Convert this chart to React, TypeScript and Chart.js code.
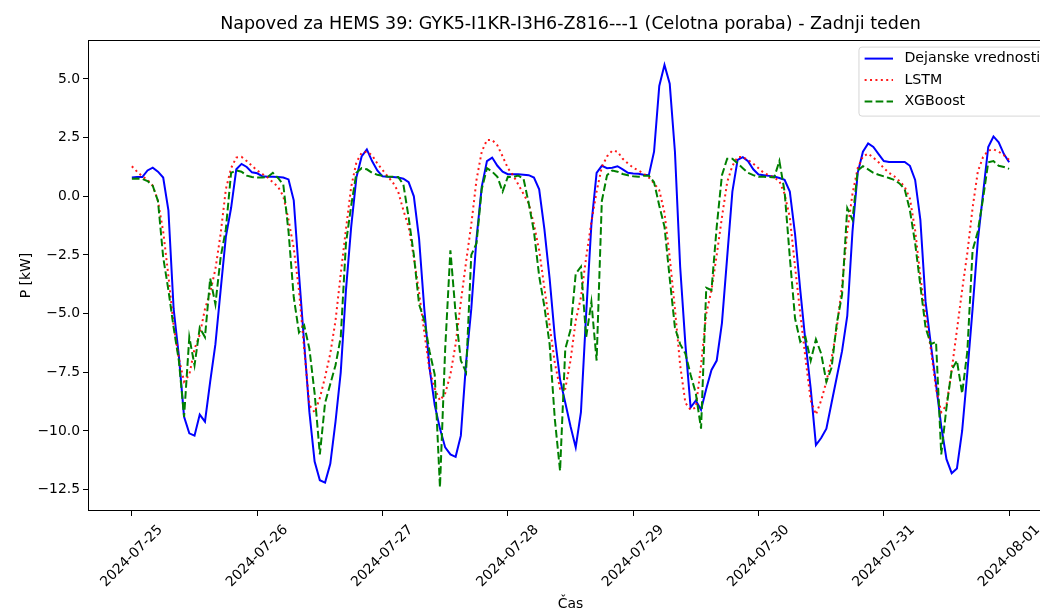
import React, { useEffect, useRef } from 'react';
import { Chart, registerables } from 'chart.js';

Chart.register(...registerables);

// ---------- Data ----------
const TITLE = 'Napoved za HEMS 39: GYK5-I1KR-I3H6-Z816---1 (Celotna poraba) - Zadnji teden';
const X_LABEL = 'Čas';
const Y_LABEL = 'P [kW]';
const seriesNames = ['Dejanske vrednosti', 'LSTM', 'XGBoost'];

const xTickLabels = ['2024-07-25', '2024-07-26', '2024-07-27', '2024-07-28', '2024-07-29', '2024-07-30', '2024-07-31', '2024-08-01'];
const yTickValues = [5, 2.5, 0, -2.5, -5, -7.5, -10, -12.5];

// hourly values, 2024-07-25 00:00 .. 2024-08-01 00:00
const actual = [
  0.8, 0.82, 0.82, 1.1, 1.22, 1.05, 0.8, -0.6, -4.8, -6.8,
  -9.4, -10.1, -10.2, -9.3, -9.6, -7.9, -6.3, -4.0, -1.73, -0.5,
  1.15, 1.38, 1.25, 1.02, 0.98, 0.85, 0.83, 0.83, 0.82, 0.8,
  0.72, -0.17, -3.3, -6.26, -9.2, -11.3, -12.1, -12.2, -11.4, -9.6,
  -7.5, -4.0, -1.3, 0.8, 1.7, 2.0, 1.5, 1.1, 0.85, 0.83,
  0.82, 0.8, 0.75, 0.6, 0.0, -1.8, -4.8, -7.3, -8.9, -9.9,
  -10.7, -11.0, -11.1, -10.2, -7.1, -4.8, -1.8, 0.4, 1.5, 1.65,
  1.3, 1.05, 0.94, 0.94, 0.94, 0.92, 0.9, 0.8, 0.3, -1.4,
  -3.5, -6.0, -7.8, -8.8, -9.8, -10.7, -9.2, -5.0, -1.2, 1.0,
  1.3, 1.2, 1.22, 1.28, 1.15, 1.0, 0.97, 0.96, 0.92, 0.9,
  1.9, 4.7, 5.6, 4.8, 1.9, -3.0, -6.3, -9.0, -8.7, -9.1,
  -8.2, -7.4, -7.0, -5.4, -2.6, 0.2, 1.55, 1.67, 1.5, 1.15,
  0.93, 0.9, 0.87, 0.84, 0.78, 0.7, 0.2, -1.6, -4.0, -6.2,
  -8.2, -10.6, -10.3, -9.9, -8.8, -7.7, -6.6, -5.1, -1.5, 1.0,
  1.9, 2.25, 2.1, 1.8, 1.5, 1.46, 1.46, 1.46, 1.46, 1.3,
  0.7, -1.0, -4.5, -6.3, -8.0, -9.8, -11.2, -11.8, -11.6, -10.0,
  -7.5, -4.8, -1.9, 0.1, 2.1, 2.55, 2.3, 1.8, 1.45,
];

const lstm = [
  1.28, 1.05, 0.85, 0.7, 0.45, -0.2, -1.5, -3.4, -5.5, -6.9,
  -7.9, -7.6, -6.5, -5.9, -4.8, -4.1, -3.1, -1.6, 0.3, 1.2,
  1.65, 1.68, 1.5, 1.3, 1.1, 0.95, 0.8, 0.6, 0.4, 0.0,
  -1.0, -2.2, -4.0, -6.5, -8.9, -9.2, -8.6, -7.7, -6.7, -5.3,
  -3.3, -1.4, 0.4, 1.45, 1.85, 1.9, 1.75, 1.4, 1.12, 0.85,
  0.58, 0.2, -0.6, -1.3, -2.6, -4.1, -5.8, -7.4, -8.2, -8.7,
  -8.4, -7.6, -6.3, -4.5, -2.8, -1.2, 0.7, 1.9, 2.4, 2.4,
  2.17, 1.7, 1.2, 0.9, 0.5, 0.1, -0.3, -1.2, -2.3, -3.9,
  -5.5, -7.1, -8.2, -8.2, -7.0, -5.3, -4.3, -2.6, -1.1, 0.2,
  1.25, 1.7, 1.95, 1.9, 1.6, 1.4, 1.22, 1.1, 0.97, 0.8,
  0.55, 0.26, -0.7, -2.6, -4.8, -7.2, -8.8, -9.1, -9.0, -7.2,
  -5.0, -4.0, -2.5, -0.9, 0.6, 1.3, 1.67, 1.67, 1.55, 1.39,
  1.2, 1.0, 0.9, 0.8, 0.65, 0.1, -0.9, -3.0, -5.0, -6.9,
  -8.7, -9.3, -8.7, -7.9, -6.9, -5.6, -3.8, -1.5, 0.1, 1.2,
  1.7, 1.82, 1.65, 1.45, 1.2, 1.0, 0.85, 0.65, 0.4, -0.1,
  -1.45, -3.4, -5.1, -6.5, -8.2, -9.2, -8.9, -7.4, -5.7, -4.0,
  -2.4, -0.5, 1.05, 1.67, 1.95, 2.0, 1.9, 1.75, 1.55,
];

const xgboost = [
  0.75, 0.76, 0.74, 0.65, 0.45, -0.2, -2.6, -4.0, -5.6, -7.0,
  -9.4, -6.0, -7.2, -5.6, -6.0, -3.5, -4.6, -2.6, -1.4, 1.0,
  1.1, 1.05, 0.88, 0.82, 0.8, 0.8, 0.82, 1.0, 0.78, 0.5,
  -1.5, -4.3, -5.8, -5.5, -6.5, -8.4, -11.0, -8.8, -8.0, -7.2,
  -6.0, -2.0, -0.4, 1.0, 1.2, 1.15, 1.0, 0.92, 0.87, 0.84,
  0.83, 0.82, 0.5, -0.9, -2.5, -4.6, -5.3, -6.6, -7.6, -12.4,
  -6.5, -2.3, -5.0, -7.0, -7.5, -2.5, -2.0, 0.3, 1.2, 1.05,
  0.83, 0.2, 0.83, 0.82, 0.88, 0.75, -0.3, -1.5, -3.4, -4.7,
  -6.3, -9.5, -11.7, -6.5, -5.7, -3.3, -3.0, -6.0, -4.5, -7.0,
  -0.2, 0.9, 1.1, 1.05, 0.95, 0.9, 0.85, 0.83, 0.88, 0.88,
  0.6, -0.4, -1.3, -3.5, -5.6, -6.3, -6.7, -7.6, -8.4, -9.9,
  -3.9, -4.0, -1.3, 0.9, 1.6, 1.6, 1.4, 1.2, 1.0, 0.9,
  0.83, 0.83, 0.82, 0.8, 1.5, 0.2, -2.6, -5.2, -6.2, -6.0,
  -7.0, -6.1, -6.7, -7.9, -7.3, -5.4, -4.2, -0.5, -1.0, 1.1,
  1.28, 1.15, 1.0, 0.92, 0.85, 0.78, 0.7, 0.55, 0.3, -0.6,
  -2.0, -3.8, -5.6, -6.3, -6.2, -11.0, -9.0, -7.4, -7.0, -8.4,
  -6.6, -2.3, -1.5, -0.1, 1.45, 1.5, 1.3, 1.25, 1.17,
];

// ---------- Layout / style constants ----------
const CANVAS_W = 1070;
const CANVAS_H = 610;
const FONT = '"DejaVu Sans", "Liberation Sans", sans-serif';
const TICK_SIZE = 13.9;
const LEGEND_SIZE = 14.2;
const TITLE_SIZE = 17.5;
const X_MIN = -8.4;
const X_MAX = 176.4;
const Y_MIN = -13.41;
const Y_MAX = 6.66;

const xTickHours = xTickLabels.map((_, i) => i * 24);
const toPoints = (arr: number[]) => arr.map((v, i) => ({ x: i, y: v }));

const fmtY = (v: number) => {
  const s = Math.abs(v).toFixed(1);
  return v < 0 ? '\u2212' + s : s;
};

const styles = [
  { color: '#0000ff', dash: [] as number[] },
  { color: 'rgba(255,0,0,0.9)', dash: [2, 3.4] },
  { color: '#008000', dash: [7.7, 3.3] },
];

const decorPlugin = {
  id: 'decor',
  afterDraw(chart: any) {
    const { ctx, chartArea: a, scales } = chart;
    ctx.save();
    // axes box
    ctx.strokeStyle = '#000';
    ctx.lineWidth = 1;
    ctx.strokeRect(Math.round(a.left) + 0.5, Math.round(a.top) + 0.5, Math.round(a.right - a.left), Math.round(a.bottom - a.top) - 1);

    ctx.fillStyle = '#000';
    // title
    ctx.font = `${TITLE_SIZE}px ${FONT}`;
    ctx.textAlign = 'center';
    ctx.textBaseline = 'alphabetic';
    ctx.fillText(TITLE, (a.left + a.right) / 2, a.top - 11);

    // x tick labels rotated 45deg, centred on tick
    ctx.font = `${TICK_SIZE}px ${FONT}`;
    const xs = scales.x;
    xTickLabels.forEach((lab, i) => {
      const px = xs.getPixelForValue(xTickHours[i]);
      const w = ctx.measureText(lab).width;
      const h = TICK_SIZE * 1.164;
      const bh = (w + h) / Math.SQRT2;
      const cy = a.bottom + 11 + bh / 2;
      ctx.save();
      ctx.translate(px, cy);
      ctx.rotate(-Math.PI / 4);
      ctx.textAlign = 'center';
      ctx.textBaseline = 'middle';
      ctx.fillText(lab, 0, 0);
      ctx.restore();
    });

    // x axis label
    ctx.textAlign = 'center';
    ctx.textBaseline = 'top';
    ctx.fillText(X_LABEL, (a.left + a.right) / 2, 597);

    // y axis label
    ctx.save();
    ctx.translate(26, (a.top + a.bottom) / 2);
    ctx.rotate(-Math.PI / 2);
    ctx.textAlign = 'center';
    ctx.textBaseline = 'middle';
    ctx.fillText(Y_LABEL, 0, 0);
    ctx.restore();

    // legend (upper right, inside axes)
    const em = LEGEND_SIZE;
    ctx.font = `${LEGEND_SIZE}px ${FONT}`;
    const textW = Math.max(...seriesNames.map((n) => ctx.measureText(n).width));
    const right = a.right - 0.5 * em;
    const top = a.top + 0.5 * em;
    const width = 0.4 * em + 2 * em + 0.8 * em + textW + 0.4 * em;
    const left = right - width;
    const height = 69;
    const r = 3;
    ctx.beginPath();
    ctx.moveTo(left + r, top);
    ctx.lineTo(right - r, top);
    ctx.arcTo(right, top, right, top + r, r);
    ctx.lineTo(right, top + height - r);
    ctx.arcTo(right, top + height, right - r, top + height, r);
    ctx.lineTo(left + r, top + height);
    ctx.arcTo(left, top + height, left, top + height - r, r);
    ctx.lineTo(left, top + r);
    ctx.arcTo(left, top, left + r, top, r);
    ctx.closePath();
    ctx.fillStyle = 'rgba(255,255,255,0.8)';
    ctx.fill();
    ctx.strokeStyle = 'rgba(204,204,204,0.8)';
    ctx.lineWidth = 1;
    ctx.stroke();

    const rowY = [top + 11.5, top + 33, top + 54.5];
    seriesNames.forEach((name, i) => {
      const y = rowY[i];
      const hx = left + 0.4 * em;
      ctx.beginPath();
      ctx.setLineDash(styles[i].dash);
      ctx.strokeStyle = styles[i].color;
      ctx.lineWidth = 2;
      ctx.moveTo(hx, y);
      ctx.lineTo(hx + 2 * em, y);
      ctx.stroke();
      ctx.setLineDash([]);
      ctx.fillStyle = '#000';
      ctx.textAlign = 'left';
      ctx.textBaseline = 'middle';
      ctx.fillText(name, hx + 2.8 * em, y);
    });

    ctx.restore();
  },
};

export default function App() {
  const ref = useRef<HTMLCanvasElement | null>(null);

  useEffect(() => {
    if (!ref.current) return;
    const series = [actual, lstm, xgboost];
    const chart = new Chart(ref.current, {
      type: 'line',
      data: {
        datasets: series.map((arr, i) => ({
          label: seriesNames[i],
          data: toPoints(arr),
          borderColor: styles[i].color,
          borderDash: styles[i].dash,
          borderWidth: 2,
          pointRadius: 0,
          tension: 0,
          fill: false,
          order: 3 - i,
        })),
      },
      options: {
        animation: false,
        responsive: false,
        devicePixelRatio: 1,
        parsing: false,
        layout: { padding: { top: 40, right: 17, left: 0, bottom: 0 } },
        plugins: {
          legend: { display: false },
          title: { display: false },
          tooltip: { enabled: false },
        },
        scales: {
          x: {
            type: 'linear',
            min: X_MIN,
            max: X_MAX,
            afterBuildTicks: (s: any) => {
              s.ticks = xTickHours.map((v) => ({ value: v }));
            },
            afterFit: (s: any) => {
              s.height = 99;
            },
            ticks: { display: false },
            grid: { drawOnChartArea: false, drawTicks: true, tickLength: 5, color: '#000', lineWidth: 1 },
            border: { display: false },
          },
          y: {
            type: 'linear',
            min: Y_MIN,
            max: Y_MAX,
            afterBuildTicks: (s: any) => {
              s.ticks = yTickValues.map((v) => ({ value: v }));
            },
            afterFit: (s: any) => {
              s.width = 88;
            },
            ticks: {
              callback: (v: any) => fmtY(Number(v)),
              font: { family: FONT, size: TICK_SIZE },
              color: '#000',
              padding: 3,
              autoSkip: false,
            },
            grid: { drawOnChartArea: false, drawTicks: true, tickLength: 5, color: '#000', lineWidth: 1 },
            border: { display: false },
          },
        },
      } as any,
      plugins: [decorPlugin],
    });
    return () => chart.destroy();
  }, []);

  return (
    <div style={{ position: 'fixed', left: 0, top: 0, width: 1040, height: 610, overflow: 'hidden', background: '#fff' }}>
      <canvas ref={ref} width={CANVAS_W} height={CANVAS_H} style={{ display: 'block', width: CANVAS_W, height: CANVAS_H }} />
    </div>
  );
}
